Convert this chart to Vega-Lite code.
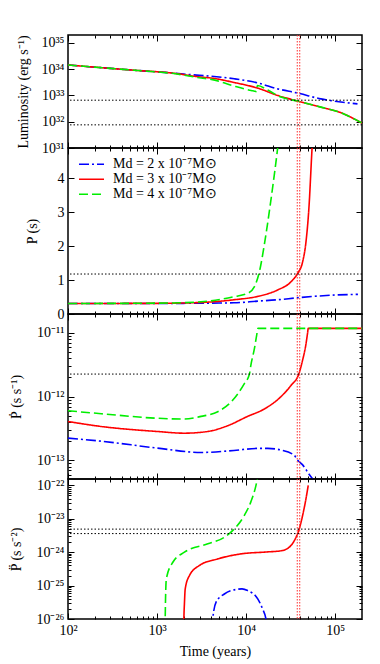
{
  "$schema": "https://vega.github.io/schema/vega-lite/v6.json",
  "padding": {"left": 8, "top": 33, "right": 19, "bottom": 4},
  "spacing": 0,
  "bounds": "flush",
  "config": {
    "view": {"stroke": "black", "strokeWidth": 1.5},
    "font": "Liberation Serif",
    "axis": {"grid": false, "domain": false, "labelFont": "Liberation Serif", "titleFont": "Liberation Serif", "labelFontSize": 14, "titleFontSize": 14, "titleFontWeight": "normal", "labelColor": "black", "titleColor": "black", "tickColor": "black", "tickWidth": 1, "labelOverlap": false, "labelFlush": false},
    "legend": {"labelFont": "Liberation Serif", "labelFontSize": 14, "labelColor": "black"},
    "line": {"strokeWidth": 1.6}
  },
  "datasets": {
    "age": [{"t": 37500}, {"t": 40000}],
    "lum": [
      {"m": "Md = 2 x 10⁻⁷M⊙", "t": 100, "v": 1.45e34}, {"m": "Md = 2 x 10⁻⁷M⊙", "t": 300, "v": 1.07e34}, {"m": "Md = 2 x 10⁻⁷M⊙", "t": 610, "v": 8.9e33}, {"m": "Md = 2 x 10⁻⁷M⊙", "t": 1440, "v": 7.2e33}, {"m": "Md = 2 x 10⁻⁷M⊙", "t": 3000, "v": 5.8e33}, {"m": "Md = 2 x 10⁻⁷M⊙", "t": 4060, "v": 5.4e33}, {"m": "Md = 2 x 10⁻⁷M⊙", "t": 7380, "v": 4.3e33}, {"m": "Md = 2 x 10⁻⁷M⊙", "t": 13500, "v": 3.0e33}, {"m": "Md = 2 x 10⁻⁷M⊙", "t": 22600, "v": 1.78e33}, {"m": "Md = 2 x 10⁻⁷M⊙", "t": 38000, "v": 1.23e33}, {"m": "Md = 2 x 10⁻⁷M⊙", "t": 69000, "v": 7.4e32}, {"m": "Md = 2 x 10⁻⁷M⊙", "t": 116000, "v": 5.6e32}, {"m": "Md = 2 x 10⁻⁷M⊙", "t": 178000, "v": 4.8e32},
      {"m": "Md = 3 x 10⁻⁷M⊙", "t": 100, "v": 1.45e34}, {"m": "Md = 3 x 10⁻⁷M⊙", "t": 300, "v": 1.07e34}, {"m": "Md = 3 x 10⁻⁷M⊙", "t": 610, "v": 8.9e33}, {"m": "Md = 3 x 10⁻⁷M⊙", "t": 1440, "v": 7.2e33}, {"m": "Md = 3 x 10⁻⁷M⊙", "t": 3130, "v": 5.0e33}, {"m": "Md = 3 x 10⁻⁷M⊙", "t": 4060, "v": 4.6e33}, {"m": "Md = 3 x 10⁻⁷M⊙", "t": 7380, "v": 3.1e33}, {"m": "Md = 3 x 10⁻⁷M⊙", "t": 13500, "v": 1.9e33}, {"m": "Md = 3 x 10⁻⁷M⊙", "t": 22600, "v": 1.0e33}, {"m": "Md = 3 x 10⁻⁷M⊙", "t": 38000, "v": 6.1e32}, {"m": "Md = 3 x 10⁻⁷M⊙", "t": 69000, "v": 3.6e32}, {"m": "Md = 3 x 10⁻⁷M⊙", "t": 116000, "v": 2.2e32}, {"m": "Md = 3 x 10⁻⁷M⊙", "t": 178000, "v": 1.1e32}, {"m": "Md = 3 x 10⁻⁷M⊙", "t": 200000, "v": 8.9e31},
      {"m": "Md = 4 x 10⁻⁷M⊙", "t": 100, "v": 1.45e34}, {"m": "Md = 4 x 10⁻⁷M⊙", "t": 300, "v": 1.07e34}, {"m": "Md = 4 x 10⁻⁷M⊙", "t": 610, "v": 8.9e33}, {"m": "Md = 4 x 10⁻⁷M⊙", "t": 1440, "v": 7.0e33}, {"m": "Md = 4 x 10⁻⁷M⊙", "t": 3130, "v": 4.6e33}, {"m": "Md = 4 x 10⁻⁷M⊙", "t": 4060, "v": 4.1e33}, {"m": "Md = 4 x 10⁻⁷M⊙", "t": 7380, "v": 2.25e33}, {"m": "Md = 4 x 10⁻⁷M⊙", "t": 11400, "v": 1.55e33}, {"m": "Md = 4 x 10⁻⁷M⊙", "t": 13000, "v": 1.42e33}, {"m": "Md = 4 x 10⁻⁷M⊙", "t": 13400, "v": 2.4e33}, {"m": "Md = 4 x 10⁻⁷M⊙", "t": 17500, "v": 1.6e33}, {"m": "Md = 4 x 10⁻⁷M⊙", "t": 24600, "v": 8.7e32}, {"m": "Md = 4 x 10⁻⁷M⊙", "t": 38000, "v": 6.1e32}, {"m": "Md = 4 x 10⁻⁷M⊙", "t": 69000, "v": 3.6e32}, {"m": "Md = 4 x 10⁻⁷M⊙", "t": 116000, "v": 2.2e32}, {"m": "Md = 4 x 10⁻⁷M⊙", "t": 178000, "v": 1.1e32}, {"m": "Md = 4 x 10⁻⁷M⊙", "t": 200000, "v": 8.9e31}
    ],
    "p": [
      {"m": "Md = 2 x 10⁻⁷M⊙", "t": 100, "v": 0.31}, {"m": "Md = 2 x 10⁻⁷M⊙", "t": 1000, "v": 0.31}, {"m": "Md = 2 x 10⁻⁷M⊙", "t": 3100, "v": 0.32}, {"m": "Md = 2 x 10⁻⁷M⊙", "t": 7300, "v": 0.33}, {"m": "Md = 2 x 10⁻⁷M⊙", "t": 13500, "v": 0.38}, {"m": "Md = 2 x 10⁻⁷M⊙", "t": 22600, "v": 0.42}, {"m": "Md = 2 x 10⁻⁷M⊙", "t": 38000, "v": 0.48}, {"m": "Md = 2 x 10⁻⁷M⊙", "t": 100000, "v": 0.56}, {"m": "Md = 2 x 10⁻⁷M⊙", "t": 180000, "v": 0.58},
      {"m": "Md = 3 x 10⁻⁷M⊙", "t": 100, "v": 0.31}, {"m": "Md = 3 x 10⁻⁷M⊙", "t": 1000, "v": 0.315}, {"m": "Md = 3 x 10⁻⁷M⊙", "t": 3100, "v": 0.34}, {"m": "Md = 3 x 10⁻⁷M⊙", "t": 7300, "v": 0.42}, {"m": "Md = 3 x 10⁻⁷M⊙", "t": 13500, "v": 0.52}, {"m": "Md = 3 x 10⁻⁷M⊙", "t": 22600, "v": 0.71}, {"m": "Md = 3 x 10⁻⁷M⊙", "t": 31900, "v": 0.95}, {"m": "Md = 3 x 10⁻⁷M⊙", "t": 37900, "v": 1.2}, {"m": "Md = 3 x 10⁻⁷M⊙", "t": 43100, "v": 1.54}, {"m": "Md = 3 x 10⁻⁷M⊙", "t": 47000, "v": 2.13}, {"m": "Md = 3 x 10⁻⁷M⊙", "t": 51200, "v": 3.31}, {"m": "Md = 3 x 10⁻⁷M⊙", "t": 54000, "v": 4.5}, {"m": "Md = 3 x 10⁻⁷M⊙", "t": 56000, "v": 5.3},
      {"m": "Md = 4 x 10⁻⁷M⊙", "t": 100, "v": 0.31}, {"m": "Md = 4 x 10⁻⁷M⊙", "t": 1000, "v": 0.32}, {"m": "Md = 4 x 10⁻⁷M⊙", "t": 3100, "v": 0.36}, {"m": "Md = 4 x 10⁻⁷M⊙", "t": 7300, "v": 0.51}, {"m": "Md = 4 x 10⁻⁷M⊙", "t": 10400, "v": 0.61}, {"m": "Md = 4 x 10⁻⁷M⊙", "t": 12400, "v": 0.81}, {"m": "Md = 4 x 10⁻⁷M⊙", "t": 14100, "v": 1.25}, {"m": "Md = 4 x 10⁻⁷M⊙", "t": 16000, "v": 2.04}, {"m": "Md = 4 x 10⁻⁷M⊙", "t": 18200, "v": 3.02}, {"m": "Md = 4 x 10⁻⁷M⊙", "t": 20700, "v": 4.1}, {"m": "Md = 4 x 10⁻⁷M⊙", "t": 22600, "v": 4.9}, {"m": "Md = 4 x 10⁻⁷M⊙", "t": 23500, "v": 5.3}
    ],
    "pdot": [
      {"m": "Md = 2 x 10⁻⁷M⊙", "t": 100, "v": 2.23e-13}, {"m": "Md = 2 x 10⁻⁷M⊙", "t": 236, "v": 2.0e-13}, {"m": "Md = 2 x 10⁻⁷M⊙", "t": 1000, "v": 1.56e-13}, {"m": "Md = 2 x 10⁻⁷M⊙", "t": 3120, "v": 1.33e-13}, {"m": "Md = 2 x 10⁻⁷M⊙", "t": 7300, "v": 1.43e-13}, {"m": "Md = 2 x 10⁻⁷M⊙", "t": 13500, "v": 1.54e-13}, {"m": "Md = 2 x 10⁻⁷M⊙", "t": 17500, "v": 1.54e-13}, {"m": "Md = 2 x 10⁻⁷M⊙", "t": 24600, "v": 1.45e-13}, {"m": "Md = 2 x 10⁻⁷M⊙", "t": 34700, "v": 1.2e-13}, {"m": "Md = 2 x 10⁻⁷M⊙", "t": 37800, "v": 1.01e-13}, {"m": "Md = 2 x 10⁻⁷M⊙", "t": 43100, "v": 8.5e-14}, {"m": "Md = 2 x 10⁻⁷M⊙", "t": 51200, "v": 6.0e-14}, {"m": "Md = 2 x 10⁻⁷M⊙", "t": 55800, "v": 5.1e-14}, {"m": "Md = 2 x 10⁻⁷M⊙", "t": 60000, "v": 4.3e-14},
      {"m": "Md = 3 x 10⁻⁷M⊙", "t": 100, "v": 4.07e-13}, {"m": "Md = 3 x 10⁻⁷M⊙", "t": 236, "v": 3.4e-13}, {"m": "Md = 3 x 10⁻⁷M⊙", "t": 1000, "v": 2.84e-13}, {"m": "Md = 3 x 10⁻⁷M⊙", "t": 2030, "v": 2.67e-13}, {"m": "Md = 3 x 10⁻⁷M⊙", "t": 3700, "v": 2.84e-13}, {"m": "Md = 3 x 10⁻⁷M⊙", "t": 6220, "v": 3.5e-13}, {"m": "Md = 3 x 10⁻⁷M⊙", "t": 10400, "v": 4.9e-13}, {"m": "Md = 3 x 10⁻⁷M⊙", "t": 16000, "v": 6.4e-13}, {"m": "Md = 3 x 10⁻⁷M⊙", "t": 24600, "v": 1.0e-12}, {"m": "Md = 3 x 10⁻⁷M⊙", "t": 31900, "v": 1.5e-12}, {"m": "Md = 3 x 10⁻⁷M⊙", "t": 39000, "v": 2.26e-12}, {"m": "Md = 3 x 10⁻⁷M⊙", "t": 43000, "v": 3.7e-12}, {"m": "Md = 3 x 10⁻⁷M⊙", "t": 47000, "v": 6.7e-12}, {"m": "Md = 3 x 10⁻⁷M⊙", "t": 49000, "v": 1.0e-11}, {"m": "Md = 3 x 10⁻⁷M⊙", "t": 49800, "v": 1.18e-11}, {"m": "Md = 3 x 10⁻⁷M⊙", "t": 200000, "v": 1.18e-11},
      {"m": "Md = 4 x 10⁻⁷M⊙", "t": 100, "v": 6.0e-13}, {"m": "Md = 4 x 10⁻⁷M⊙", "t": 236, "v": 5.4e-13}, {"m": "Md = 4 x 10⁻⁷M⊙", "t": 1000, "v": 4.58e-13}, {"m": "Md = 4 x 10⁻⁷M⊙", "t": 2030, "v": 4.45e-13}, {"m": "Md = 4 x 10⁻⁷M⊙", "t": 3120, "v": 4.9e-13}, {"m": "Md = 4 x 10⁻⁷M⊙", "t": 4800, "v": 5.8e-13}, {"m": "Md = 4 x 10⁻⁷M⊙", "t": 6800, "v": 8.3e-13}, {"m": "Md = 4 x 10⁻⁷M⊙", "t": 9550, "v": 1.6e-12}, {"m": "Md = 4 x 10⁻⁷M⊙", "t": 10900, "v": 2.26e-12}, {"m": "Md = 4 x 10⁻⁷M⊙", "t": 11300, "v": 3.1e-12}, {"m": "Md = 4 x 10⁻⁷M⊙", "t": 12400, "v": 5.7e-12}, {"m": "Md = 4 x 10⁻⁷M⊙", "t": 13100, "v": 9.0e-12}, {"m": "Md = 4 x 10⁻⁷M⊙", "t": 13600, "v": 1.18e-11}, {"m": "Md = 4 x 10⁻⁷M⊙", "t": 200000, "v": 1.18e-11}
    ],
    "pddot": [
      {"m": "Md = 2 x 10⁻⁷M⊙", "t": 4150, "v": 5e-27}, {"m": "Md = 2 x 10⁻⁷M⊙", "t": 4220, "v": 1e-26}, {"m": "Md = 2 x 10⁻⁷M⊙", "t": 4600, "v": 3.2e-26}, {"m": "Md = 2 x 10⁻⁷M⊙", "t": 5700, "v": 5.6e-26}, {"m": "Md = 2 x 10⁻⁷M⊙", "t": 8050, "v": 7.8e-26}, {"m": "Md = 2 x 10⁻⁷M⊙", "t": 9000, "v": 8.0e-26}, {"m": "Md = 2 x 10⁻⁷M⊙", "t": 10400, "v": 7.1e-26}, {"m": "Md = 2 x 10⁻⁷M⊙", "t": 13500, "v": 4.0e-26}, {"m": "Md = 2 x 10⁻⁷M⊙", "t": 15300, "v": 2.0e-26}, {"m": "Md = 2 x 10⁻⁷M⊙", "t": 16700, "v": 1e-26}, {"m": "Md = 2 x 10⁻⁷M⊙", "t": 17000, "v": 5e-27},
      {"m": "Md = 3 x 10⁻⁷M⊙", "t": 1990, "v": 5e-27}, {"m": "Md = 3 x 10⁻⁷M⊙", "t": 2000, "v": 1e-26}, {"m": "Md = 3 x 10⁻⁷M⊙", "t": 2030, "v": 3e-26}, {"m": "Md = 3 x 10⁻⁷M⊙", "t": 2070, "v": 7.9e-26}, {"m": "Md = 3 x 10⁻⁷M⊙", "t": 2310, "v": 2e-25}, {"m": "Md = 3 x 10⁻⁷M⊙", "t": 2990, "v": 4e-25}, {"m": "Md = 3 x 10⁻⁷M⊙", "t": 4800, "v": 6.3e-25}, {"m": "Md = 3 x 10⁻⁷M⊙", "t": 8770, "v": 8.9e-25}, {"m": "Md = 3 x 10⁻⁷M⊙", "t": 17500, "v": 1.02e-24}, {"m": "Md = 3 x 10⁻⁷M⊙", "t": 24600, "v": 1.1e-24}, {"m": "Md = 3 x 10⁻⁷M⊙", "t": 29300, "v": 1.3e-24}, {"m": "Md = 3 x 10⁻⁷M⊙", "t": 34700, "v": 2.2e-24}, {"m": "Md = 3 x 10⁻⁷M⊙", "t": 39500, "v": 5e-24}, {"m": "Md = 3 x 10⁻⁷M⊙", "t": 43100, "v": 1.26e-23}, {"m": "Md = 3 x 10⁻⁷M⊙", "t": 47000, "v": 4e-23}, {"m": "Md = 3 x 10⁻⁷M⊙", "t": 49800, "v": 1e-22},
      {"m": "Md = 4 x 10⁻⁷M⊙", "t": 1220, "v": 5e-27}, {"m": "Md = 4 x 10⁻⁷M⊙", "t": 1233, "v": 1e-26}, {"m": "Md = 4 x 10⁻⁷M⊙", "t": 1245, "v": 4e-26}, {"m": "Md = 4 x 10⁻⁷M⊙", "t": 1270, "v": 1.58e-25}, {"m": "Md = 4 x 10⁻⁷M⊙", "t": 1503, "v": 5e-25}, {"m": "Md = 4 x 10⁻⁷M⊙", "t": 2030, "v": 1e-24}, {"m": "Md = 4 x 10⁻⁷M⊙", "t": 3715, "v": 1.78e-24}, {"m": "Md = 4 x 10⁻⁷M⊙", "t": 5700, "v": 2.8e-24}, {"m": "Md = 4 x 10⁻⁷M⊙", "t": 7380, "v": 5e-24}, {"m": "Md = 4 x 10⁻⁷M⊙", "t": 9550, "v": 1.26e-23}, {"m": "Md = 4 x 10⁻⁷M⊙", "t": 11300, "v": 3.2e-23}, {"m": "Md = 4 x 10⁻⁷M⊙", "t": 12900, "v": 1e-22}, {"m": "Md = 4 x 10⁻⁷M⊙", "t": 13600, "v": 2e-22}
    ]
  },
  "vconcat": [
    {
      "width": 294, "height": 113,
      "layer": [
        {
          "data": {"name": "lum"},
          "mark": {"type": "line", "clip": true, "interpolate": "monotone"},
          "encoding": {
            "x": {"field": "t", "type": "quantitative", "scale": {"type": "log", "domain": [100, 200000], "nice": false},
              "axis": {"orient": "bottom", "labels": false, "title": null, "values": [100,200,300,400,500,600,700,800,900,1000,2000,3000,4000,5000,6000,7000,8000,9000,10000,20000,30000,40000,50000,60000,70000,80000,90000,100000],
                "tickSize": {"condition": {"test": "indexof([100,1000,10000,100000], datum.value) >= 0", "value": -6}, "value": -3}}},
            "y": {"field": "v", "type": "quantitative", "scale": {"type": "log", "domain": [1e31, 2e35], "nice": false},
              "axis": {"orient": "left", "values": [1e31, 1e32, 1e33, 1e34, 1e35], "tickSize": -6, "labelPadding": 10,
                "labelExpr": "datum.value == 1e31 ? '10³¹' : datum.value == 1e32 ? '10³²' : datum.value == 1e33 ? '10³³' : datum.value == 1e34 ? '10³⁴' : datum.value == 1e35 ? '10³⁵' : ''",
                "title": "Luminosity (erg s⁻¹)", "titleX": -45, "titleBaseline": "middle"}},
            "color": {"field": "m", "type": "nominal", "scale": {"range": ["#0000ff", "#ff0000", "#00ee00"]}, "legend": null},
            "strokeDash": {"field": "m", "type": "nominal", "scale": {"range": [[10, 3, 2, 3], [1, 0], [9, 4]]}, "legend": null}
          }
        },
        {
          "data": {"name": "age"},
          "mark": {"type": "rule", "color": "#ff3030", "strokeDash": [1.5, 1.5], "strokeWidth": 1},
          "encoding": {
            "x": {"field": "t", "type": "quantitative", "scale": {"type": "log", "domain": [100, 200000], "nice": false},
              "axis": {"orient": "top", "labels": false, "title": null, "values": [100,200,300,400,500,600,700,800,900,1000,2000,3000,4000,5000,6000,7000,8000,9000,10000,20000,30000,40000,50000,60000,70000,80000,90000,100000],
                "tickSize": {"condition": {"test": "indexof([100,1000,10000,100000], datum.value) >= 0", "value": -6}, "value": -3}}}
          }
        },
        {
          "data": {"values": [{"v": 6.6e32}, {"v": 7.6e31}]},
          "mark": {"type": "rule", "color": "black", "strokeDash": [1.5, 2], "strokeWidth": 1},
          "encoding": {
            "y": {"field": "v", "type": "quantitative", "scale": {"type": "log", "domain": [1e31, 2e35], "nice": false},
              "axis": {"orient": "right", "labels": false, "title": null, "values": [1e31, 1e32, 1e33, 1e34, 1e35], "tickSize": -6}}
          }
        }
      ],
      "resolve": {"axis": {"x": "independent", "y": "independent"}}
    },
    {
      "width": 294, "height": 166,
      "layer": [
        {
          "data": {"name": "p"},
          "mark": {"type": "line", "clip": true, "interpolate": "monotone"},
          "encoding": {
            "x": {"field": "t", "type": "quantitative", "scale": {"type": "log", "domain": [100, 200000], "nice": false},
              "axis": {"orient": "bottom", "labels": false, "title": null, "values": [100,200,300,400,500,600,700,800,900,1000,2000,3000,4000,5000,6000,7000,8000,9000,10000,20000,30000,40000,50000,60000,70000,80000,90000,100000],
                "tickSize": {"condition": {"test": "indexof([100,1000,10000,100000], datum.value) >= 0", "value": -6}, "value": -3}}},
            "y": {"field": "v", "type": "quantitative", "scale": {"type": "linear", "domain": [0, 4.9], "nice": false, "zero": false},
              "axis": {"orient": "left", "values": [0, 1, 2, 3, 4], "tickSize": -6, "labelPadding": 10,
                "title": "P (s)", "titleX": -36, "titleBaseline": "middle"}},
            "color": {"field": "m", "type": "nominal", "scale": {"range": ["#0000ff", "#ff0000", "#00ee00"]},
              "legend": {"orient": "top-left", "title": null, "symbolType": "stroke", "symbolSize": 625, "symbolStrokeWidth": 1.6, "offset": 10, "padding": 0, "rowPadding": 0, "clipHeight": 12.5, "labelOffset": 8, "labelLimit": 0}},
            "strokeDash": {"field": "m", "type": "nominal", "scale": {"range": [[10, 3, 2, 3], [1, 0], [9, 4]]},
              "legend": {"orient": "top-left", "title": null, "symbolType": "stroke", "symbolSize": 625, "symbolStrokeWidth": 1.6, "offset": 10, "padding": 0, "rowPadding": 0, "clipHeight": 12.5, "labelOffset": 8, "labelLimit": 0}}
          }
        },
        {
          "data": {"name": "age"},
          "mark": {"type": "rule", "color": "#ff3030", "strokeDash": [1.5, 1.5], "strokeWidth": 1},
          "encoding": {
            "x": {"field": "t", "type": "quantitative", "scale": {"type": "log", "domain": [100, 200000], "nice": false},
              "axis": {"orient": "top", "labels": false, "title": null, "values": [100,200,300,400,500,600,700,800,900,1000,2000,3000,4000,5000,6000,7000,8000,9000,10000,20000,30000,40000,50000,60000,70000,80000,90000,100000],
                "tickSize": {"condition": {"test": "indexof([100,1000,10000,100000], datum.value) >= 0", "value": -6}, "value": -3}}}
          }
        },
        {
          "data": {"values": [{"v": 1.18}]},
          "mark": {"type": "rule", "color": "black", "strokeDash": [1.5, 2], "strokeWidth": 1},
          "encoding": {
            "y": {"field": "v", "type": "quantitative", "scale": {"type": "linear", "domain": [0, 4.9], "nice": false, "zero": false},
              "axis": {"orient": "right", "labels": false, "title": null, "values": [0, 1, 2, 3, 4], "tickSize": -6}}
          }
        }
      ],
      "resolve": {"axis": {"x": "independent", "y": "independent"}}
    },
    {
      "width": 294, "height": 165,
      "layer": [
        {
          "data": {"name": "pdot"},
          "mark": {"type": "line", "clip": true, "interpolate": "monotone"},
          "encoding": {
            "x": {"field": "t", "type": "quantitative", "scale": {"type": "log", "domain": [100, 200000], "nice": false},
              "axis": {"orient": "bottom", "labels": false, "title": null, "values": [100,200,300,400,500,600,700,800,900,1000,2000,3000,4000,5000,6000,7000,8000,9000,10000,20000,30000,40000,50000,60000,70000,80000,90000,100000],
                "tickSize": {"condition": {"test": "indexof([100,1000,10000,100000], datum.value) >= 0", "value": -6}, "value": -3}}},
            "y": {"field": "v", "type": "quantitative", "scale": {"type": "log", "domain": [5.1e-14, 1.98e-11], "nice": false},
              "axis": {"orient": "left", "values": [6e-14,7e-14,8e-14,9e-14,1e-13,2e-13,3e-13,4e-13,5e-13,6e-13,7e-13,8e-13,9e-13,1e-12,2e-12,3e-12,4e-12,5e-12,6e-12,7e-12,8e-12,9e-12,1e-11],
                "tickSize": {"condition": {"test": "indexof([1e-13,1e-12,1e-11], datum.value) >= 0", "value": -6}, "value": -3}, "labelPadding": 10,
                "labelExpr": "datum.value == 1e-11 ? '10⁻¹¹' : datum.value == 1e-12 ? '10⁻¹²' : datum.value == 1e-13 ? '10⁻¹³' : ''",
                "title": "Ṗ (s s⁻¹)", "titleX": -52, "titleBaseline": "middle"}},
            "color": {"field": "m", "type": "nominal", "scale": {"range": ["#0000ff", "#ff0000", "#00ee00"]}, "legend": null},
            "strokeDash": {"field": "m", "type": "nominal", "scale": {"range": [[10, 3, 2, 3], [1, 0], [9, 4]]}, "legend": null}
          }
        },
        {
          "data": {"name": "age"},
          "mark": {"type": "rule", "color": "#ff3030", "strokeDash": [1.5, 1.5], "strokeWidth": 1},
          "encoding": {
            "x": {"field": "t", "type": "quantitative", "scale": {"type": "log", "domain": [100, 200000], "nice": false},
              "axis": {"orient": "top", "labels": false, "title": null, "values": [100,200,300,400,500,600,700,800,900,1000,2000,3000,4000,5000,6000,7000,8000,9000,10000,20000,30000,40000,50000,60000,70000,80000,90000,100000],
                "tickSize": {"condition": {"test": "indexof([100,1000,10000,100000], datum.value) >= 0", "value": -6}, "value": -3}}}
          }
        },
        {
          "data": {"values": [{"v": 2.26e-12}]},
          "mark": {"type": "rule", "color": "black", "strokeDash": [1.5, 2], "strokeWidth": 1},
          "encoding": {
            "y": {"field": "v", "type": "quantitative", "scale": {"type": "log", "domain": [5.1e-14, 1.98e-11], "nice": false},
              "axis": {"orient": "right", "labels": false, "title": null, "values": [6e-14,7e-14,8e-14,9e-14,1e-13,2e-13,3e-13,4e-13,5e-13,6e-13,7e-13,8e-13,9e-13,1e-12,2e-12,3e-12,4e-12,5e-12,6e-12,7e-12,8e-12,9e-12,1e-11],
                "tickSize": {"condition": {"test": "indexof([1e-13,1e-12,1e-11], datum.value) >= 0", "value": -6}, "value": -3}}}
          }
        }
      ],
      "resolve": {"axis": {"x": "independent", "y": "independent"}}
    },
    {
      "width": 294, "height": 140,
      "layer": [
        {
          "data": {"name": "pddot"},
          "mark": {"type": "line", "clip": true, "interpolate": "monotone"},
          "encoding": {
            "x": {"field": "t", "type": "quantitative", "scale": {"type": "log", "domain": [100, 200000], "nice": false},
              "axis": {"orient": "bottom", "title": "Time (years)", "titlePadding": 4, "labelPadding": 10, "values": [100,200,300,400,500,600,700,800,900,1000,2000,3000,4000,5000,6000,7000,8000,9000,10000,20000,30000,40000,50000,60000,70000,80000,90000,100000],
                "labelExpr": "datum.value == 100 ? '10²' : datum.value == 1000 ? '10³' : datum.value == 10000 ? '10⁴' : datum.value == 100000 ? '10⁵' : ''",
                "tickSize": {"condition": {"test": "indexof([100,1000,10000,100000], datum.value) >= 0", "value": -6}, "value": -3}}},
            "y": {"field": "v", "type": "quantitative", "scale": {"type": "log", "domain": [1e-26, 1.55e-22], "nice": false},
              "axis": {"orient": "left", "values": [1e-26,2e-26,3e-26,4e-26,5e-26,6e-26,7e-26,8e-26,9e-26,1e-25,2e-25,3e-25,4e-25,5e-25,6e-25,7e-25,8e-25,9e-25,1e-24,2e-24,3e-24,4e-24,5e-24,6e-24,7e-24,8e-24,9e-24,1e-23,2e-23,3e-23,4e-23,5e-23,6e-23,7e-23,8e-23,9e-23,1e-22],
                "tickSize": {"condition": {"test": "indexof([1e-26,1e-25,1e-24,1e-23,1e-22], datum.value) >= 0", "value": -6}, "value": -3}, "labelPadding": 10,
                "labelExpr": "datum.value == 1e-22 ? '10⁻²²' : datum.value == 1e-23 ? '10⁻²³' : datum.value == 1e-24 ? '10⁻²⁴' : datum.value == 1e-25 ? '10⁻²⁵' : datum.value == 1e-26 ? '10⁻²⁶' : ''",
                "title": "P̈ (s s⁻²)", "titleX": -52, "titleBaseline": "middle"}},
            "color": {"field": "m", "type": "nominal", "scale": {"range": ["#0000ff", "#ff0000", "#00ee00"]}, "legend": null},
            "strokeDash": {"field": "m", "type": "nominal", "scale": {"range": [[10, 3, 2, 3], [1, 0], [9, 4]]}, "legend": null}
          }
        },
        {
          "data": {"name": "age"},
          "mark": {"type": "rule", "color": "#ff3030", "strokeDash": [1.5, 1.5], "strokeWidth": 1},
          "encoding": {
            "x": {"field": "t", "type": "quantitative", "scale": {"type": "log", "domain": [100, 200000], "nice": false},
              "axis": {"orient": "top", "labels": false, "title": null, "values": [100,200,300,400,500,600,700,800,900,1000,2000,3000,4000,5000,6000,7000,8000,9000,10000,20000,30000,40000,50000,60000,70000,80000,90000,100000],
                "tickSize": {"condition": {"test": "indexof([100,1000,10000,100000], datum.value) >= 0", "value": -6}, "value": -3}}}
          }
        },
        {
          "data": {"values": [{"v": 4.9e-24}, {"v": 3.6e-24}]},
          "mark": {"type": "rule", "color": "black", "strokeDash": [1.5, 2], "strokeWidth": 1},
          "encoding": {
            "y": {"field": "v", "type": "quantitative", "scale": {"type": "log", "domain": [1e-26, 1.55e-22], "nice": false},
              "axis": {"orient": "right", "labels": false, "title": null, "values": [1e-26,2e-26,3e-26,4e-26,5e-26,6e-26,7e-26,8e-26,9e-26,1e-25,2e-25,3e-25,4e-25,5e-25,6e-25,7e-25,8e-25,9e-25,1e-24,2e-24,3e-24,4e-24,5e-24,6e-24,7e-24,8e-24,9e-24,1e-23,2e-23,3e-23,4e-23,5e-23,6e-23,7e-23,8e-23,9e-23,1e-22],
                "tickSize": {"condition": {"test": "indexof([1e-26,1e-25,1e-24,1e-23,1e-22], datum.value) >= 0", "value": -6}, "value": -3}}}
          }
        }
      ],
      "resolve": {"axis": {"x": "independent", "y": "independent"}}
    }
  ],
  "resolve": {"scale": {"x": "independent", "y": "independent", "color": "independent", "strokeDash": "independent"}, "legend": {"color": "independent", "strokeDash": "independent"}}
}
